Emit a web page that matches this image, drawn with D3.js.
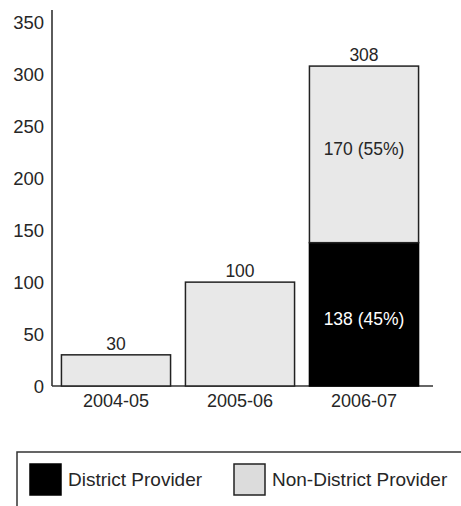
<!DOCTYPE html>
<html>
<head>
<meta charset="utf-8">
<script src="https://cdn.jsdelivr.net/npm/d3@7"></script>
<style>
  html, body { margin: 0; padding: 0; background: #fff; }
  svg { display: block; font-family: "Liberation Sans", Arial, Helvetica, sans-serif; }
</style>
</head>
<body>
<svg id="chart" width="461" height="506"></svg>
<script>
// Fiscal years on the x axis
const years = ["2004-05", "2005-06", "2006-07"];
// Non-district provider counts per year
const nonDistrict = [30, 100, 170];
// District provider counts per year
const district = [0, 0, 138];
// Y axis tick labels
const yTicks = [0, 50, 100, 150, 200, 250, 300, 350];
// Legend entries
const legendLabels = ["District Provider", "Non-District Provider"];

const svg = d3.select("#chart");
const ink = "#262626";

const y = d3.scaleLinear().domain([0, 362]).range([386, 10]);
const x = d3.scaleBand().domain(years).range([54, 426])
  .paddingInner(0.12).paddingOuter(0.06);

// Axis lines
svg.append("line").attr("x1", 52).attr("x2", 52)
  .attr("y1", y(362)).attr("y2", y(0))
  .attr("stroke", "#333").attr("stroke-width", 1.6);
svg.append("line").attr("x1", 52).attr("x2", 433)
  .attr("y1", y(0)).attr("y2", y(0))
  .attr("stroke", "#333").attr("stroke-width", 1.6);

// Y tick labels
svg.selectAll(".ytick").data(yTicks).enter().append("text")
  .attr("x", 44).attr("y", d => y(d))
  .attr("dy", "0.36em")
  .attr("text-anchor", "end")
  .attr("font-size", 18.5).attr("fill", ink)
  .text(d => d);

// Stacked data
const rows = years.map((yr, i) => ({
  year: yr, district: district[i], nonDistrict: nonDistrict[i],
  total: district[i] + nonDistrict[i]
}));

// District segment (bottom)
svg.selectAll(".dist").data(rows.filter(d => d.district > 0)).enter().append("rect")
  .attr("x", d => x(d.year)).attr("width", x.bandwidth())
  .attr("y", d => y(d.district)).attr("height", d => y(0) - y(d.district))
  .attr("fill", "#000").attr("stroke", "#000").attr("stroke-width", 1.5);

// Non-district segment (top)
svg.selectAll(".nondist").data(rows).enter().append("rect")
  .attr("x", d => x(d.year)).attr("width", x.bandwidth())
  .attr("y", d => y(d.total))
  .attr("height", d => y(d.district) - y(d.total))
  .attr("fill", "#e8e8e8").attr("stroke", "#222").attr("stroke-width", 1.5);

// Total labels above bars
svg.selectAll(".total").data(rows).enter().append("text")
  .attr("x", d => x(d.year) + x.bandwidth() / 2)
  .attr("y", d => y(d.total) - 5)
  .attr("text-anchor", "middle")
  .attr("font-size", 17.5).attr("fill", ink)
  .text(d => d.total);

// Segment labels inside the stacked bar
const split = rows.filter(d => d.district > 0);
svg.selectAll(".seglab-nd").data(split).enter().append("text")
  .attr("x", d => x(d.year) + x.bandwidth() / 2)
  .attr("y", d => (y(d.total) + y(d.district)) / 2 - 6)
  .attr("dy", "0.36em").attr("text-anchor", "middle")
  .attr("font-size", 17.5).attr("fill", ink)
  .text(d => `${d.nonDistrict} (${Math.round(d.nonDistrict / d.total * 100)}%)`);
svg.selectAll(".seglab-d").data(split).enter().append("text")
  .attr("x", d => x(d.year) + x.bandwidth() / 2)
  .attr("y", d => (y(d.district) + y(0)) / 2 + 4)
  .attr("dy", "0.36em").attr("text-anchor", "middle")
  .attr("font-size", 17.5).attr("fill", "#fff")
  .text(d => `${d.district} (${Math.round(d.district / d.total * 100)}%)`);

// X category labels
svg.selectAll(".xlab").data(years).enter().append("text")
  .attr("x", d => x(d) + x.bandwidth() / 2)
  .attr("y", 407)
  .attr("text-anchor", "middle")
  .attr("font-size", 18).attr("fill", ink)
  .text(d => d);

// Legend frame
svg.append("rect").attr("x", 17).attr("y", 452)
  .attr("width", 470).attr("height", 80)
  .attr("fill", "none").attr("stroke", "#333").attr("stroke-width", 1.5);

const swatchFill = ["#000", "#dcdcdc"];
const legendX = [30, 234];
const lg = svg.selectAll(".lg").data(legendLabels).enter().append("g")
  .attr("transform", (d, i) => `translate(${legendX[i]},464)`);
lg.append("rect").attr("width", 31).attr("height", 31)
  .attr("fill", (d, i) => swatchFill[i])
  .attr("stroke", (d, i) => i === 0 ? "#000" : "#222").attr("stroke-width", 1.5);
lg.append("text").attr("x", 38).attr("y", 15.5).attr("dy", "0.36em")
  .attr("font-size", 19).attr("fill", ink)
  .text(d => d);
</script>
</body>
</html>
